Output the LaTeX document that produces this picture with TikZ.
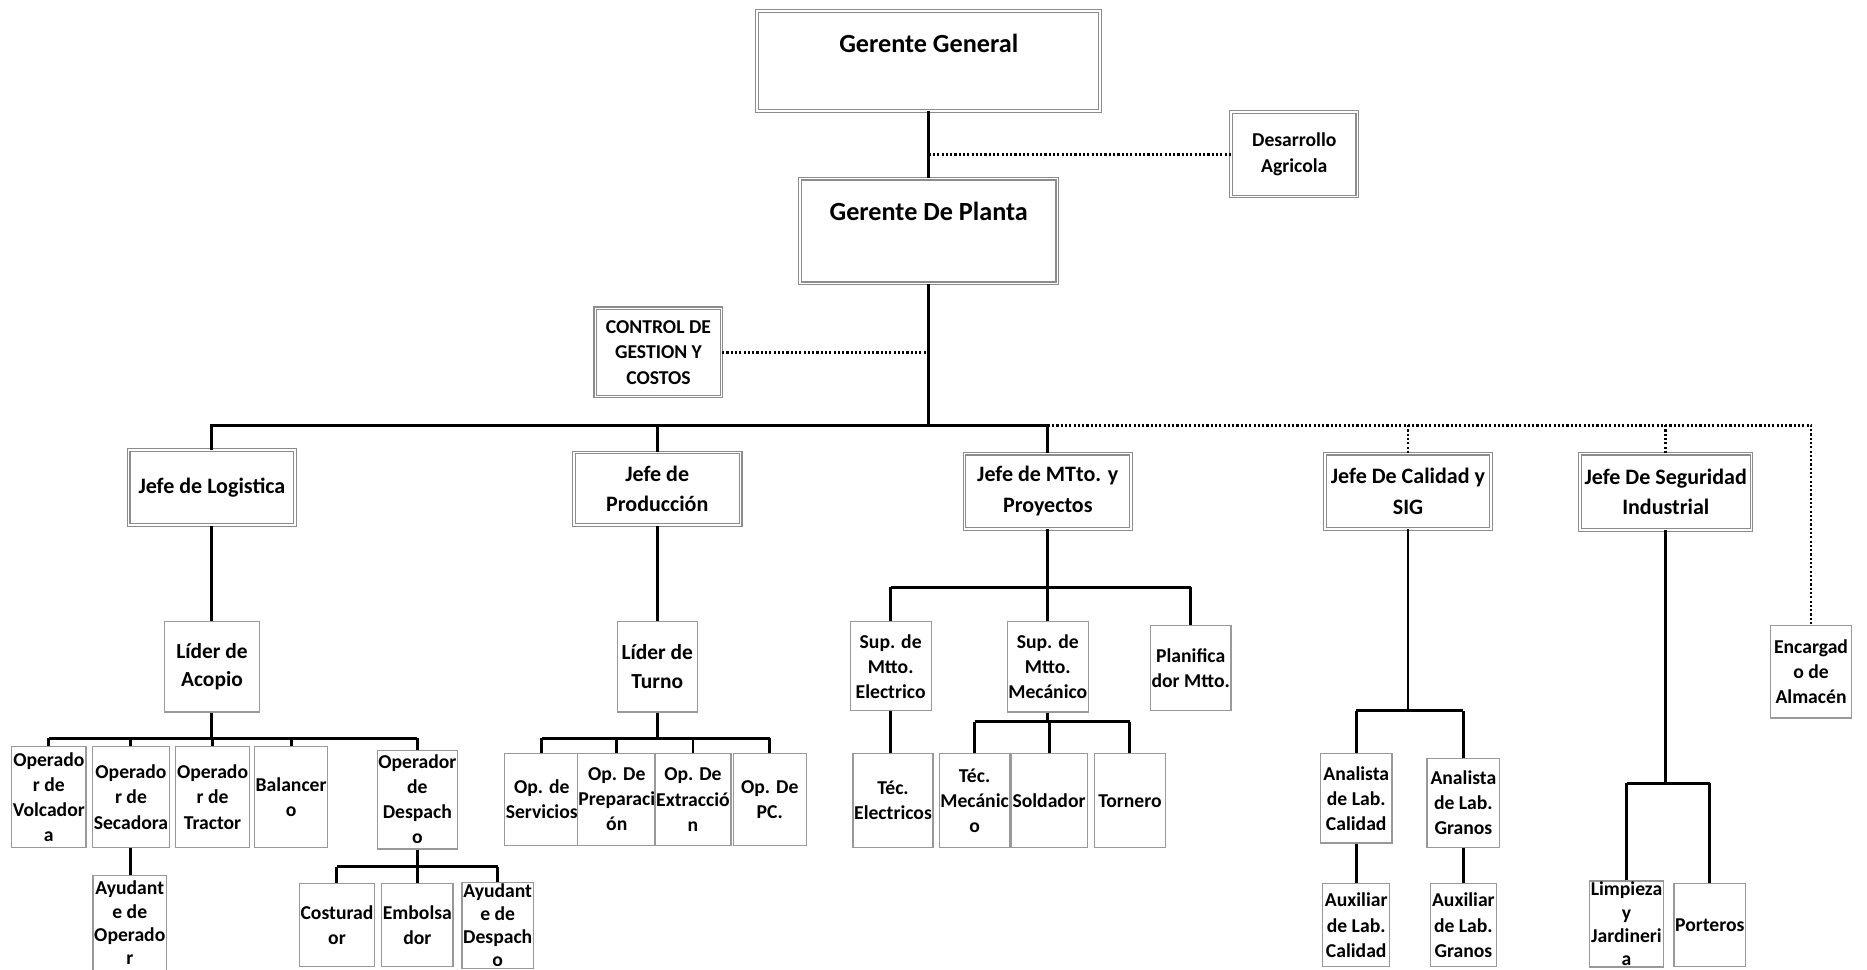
\documentclass[tikz,border=0pt]{standalone}
\usepackage{fontspec}
\setmainfont{Carlito}
\begin{document}
\begin{tikzpicture}[x=1pt,y=-1pt,
  boxbase/.style={rectangle, inner sep=1pt, align=center, fill=white, text=black},
  major/.style={boxbase, draw=black!45, double=white, double distance=1.4pt, line width=0.9pt},
  minor/.style={boxbase, draw=black!40, line width=1pt},
  conn/.style={line width=2.5pt, black},
  dotl/.style={line width=2.4pt, black, dash pattern=on 1.8pt off 1.8pt},
  fbig/.style={font=\fontsize{22}{26}\selectfont\bfseries},
  fjefe/.style={font=\fontsize{18.5}{25.5}\selectfont\bfseries},
  flider/.style={font=\fontsize{18}{24}\selectfont\bfseries},
  fside/.style={font=\fontsize{16.5}{21.5}\selectfont\bfseries},
  fsm/.style={font=\fontsize{16.5}{21}\selectfont\bfseries},
  fsmb/.style={font=\fontsize{16.5}{19.5}\selectfont\bfseries}
]
\clip (0,0) rectangle (1568,814);
\fill[white] (0,0) rectangle (1568,814);

% top level
\node[major, fbig, minimum width=288pt, inner ysep=0pt, text height=35pt, text depth=49pt] (gg) at (780,51) {Gerente General};
\node[major, fbig, minimum width=216pt, inner ysep=0pt, text height=35pt, text depth=53pt] (gp) at (780,194) {Gerente De Planta};
\node[major, fside, minimum width=106pt, minimum height=71pt] (des) at (1087,129.5) {Desarrollo\\Agricola};
\node[major, fside, minimum width=106pt, minimum height=74pt] (ctrl) at (553,296) {CONTROL DE\\GESTION Y\\COSTOS};

% jefes
\node[major, fjefe, minimum width=140pt, minimum height=63pt] (jl) at (178,409.5) {Jefe de Logistica};
\node[major, fjefe, minimum width=140pt, minimum height=61pt] (jp) at (552,410.5) {Jefe de\\Producción};
\node[major, fjefe, minimum width=140pt, minimum height=63pt] (jm) at (880,412.5) {Jefe de MTto. y\\Proyectos};
\node[major, fjefe, minimum width=139pt, minimum height=63pt] (jc) at (1182.5,412.5) {Jefe De Calidad y\\SIG};
\node[major, fjefe, minimum width=144pt, minimum height=64pt] (js) at (1399,413) {Jefe De Seguridad\\Industrial};

% logistica
\node[minor, flider, minimum width=80pt, minimum height=76pt] (la) at (178,560) {Líder de\\Acopio};
\node[minor, fsm, minimum width=62pt, minimum height=85pt] (ov) at (41,669.5) {Operado\\r de\\Volcador\\a};
\node[minor, fsm, minimum width=60pt, minimum height=85pt] (os) at (110,669.5) {Operado\\r de\\Secadora};
\node[minor, fsm, minimum width=61pt, minimum height=85pt] (ot) at (178.5,669.5) {Operado\\r de\\Tractor};
\node[minor, fsm, minimum width=61pt, minimum height=85pt] (bal) at (244.5,669.5) {Balancer\\o};
\node[minor, fsm, minimum width=65pt, minimum height=83pt] (od) at (350.5,671.5) {Operador\\de\\Despach\\o};
\node[minor, fsmb, minimum width=54pt, minimum height=80pt] (ao) at (109,775) {Ayudant\\e de\\Operado\\r};
\node[minor, fsm, minimum width=54pt, minimum height=70pt] (cos) at (283,777) {Costurad\\or};
\node[minor, fsm, minimum width=54pt, minimum height=70pt] (emb) at (350.5,777) {Embolsa\\dor};
\node[minor, fsmb, minimum width=54pt, minimum height=70pt] (ad) at (418,777) {Ayudant\\e de\\Despach\\o};

% produccion
\node[minor, flider, minimum width=67pt, minimum height=76pt] (lt) at (552,560) {Líder de\\Turno};
\node[minor, fsm, minimum width=62pt, minimum height=77pt] (ops) at (455,671.5) {Op. de\\Servicios};
\node[minor, fsm, minimum width=62pt, minimum height=77pt] (opp) at (518,671.5) {Op. De\\Preparaci\\ón};
\node[minor, fsm, minimum width=62pt, minimum height=77pt] (ope) at (582,671.5) {Op. De\\Extracció\\n};
\node[minor, fsm, minimum width=61pt, minimum height=77pt] (opc) at (646.5,671.5) {Op. De\\PC.};

% mantenimiento
\node[minor, fsm, minimum width=68pt, minimum height=75pt] (se) at (748,559.5) {Sup. de\\Mtto.\\Electrico};
\node[minor, fsm, minimum width=67pt, minimum height=76pt] (sm) at (880,560) {Sup. de\\Mtto.\\Mecánico};
\node[minor, fsm, minimum width=66pt, minimum height=72pt] (pm) at (1000,561) {Planifica\\dor Mtto.};
\node[minor, fsm, minimum width=62pt, minimum height=79pt] (te) at (750,672.5) {Téc.\\Electricos};
\node[minor, fsm, minimum width=59pt, minimum height=79pt] (tm) at (818.5,672.5) {Téc.\\Mecánic\\o};
\node[minor, fsm, minimum width=64pt, minimum height=79pt] (sol) at (881,672.5) {Soldador};
\node[minor, fsm, minimum width=60pt, minimum height=79pt] (tor) at (949,672.5) {Tornero};

% calidad
\node[minor, fsm, minimum width=60pt, minimum height=75pt] (alc) at (1139,670.5) {Analista\\de Lab.\\Calidad};
\node[minor, fsm, minimum width=61pt, minimum height=75pt] (alg) at (1229,674.5) {Analista\\de Lab.\\Granos};
\node[minor, fsm, minimum width=56pt, minimum height=70pt] (axc) at (1139,777) {Auxiliar\\de Lab.\\Calidad};
\node[minor, fsm, minimum width=55pt, minimum height=70pt] (axg) at (1229,777) {Auxiliar\\de Lab.\\Granos};

% seguridad
\node[minor, fsmb, minimum width=54pt, minimum height=70pt] (lim) at (1366,776) {Limpieza\\y\\Jardineri\\a};
\node[minor, fsm, minimum width=54pt, minimum height=70pt] (por) at (1436,777) {Porteros};
\node[minor, fsm, minimum width=68pt, minimum height=78pt] (enc) at (1521,564) {Encargad\\o de\\Almacén};

% connectors top
\draw[conn] (gg.south) -- (gp.north);
\draw[dotl] (gg.south |- des.west) -- (des.west);
\coordinate (bus) at (780,357);
\draw[conn] (gp.south) -- (bus);
\draw[dotl] (ctrl.east) -- (gp.south |- ctrl.east);
\draw[conn] (jl.north) |- (jm.north |- bus) -- (jm.north);
\draw[conn] (jp.north) -- (jp.north |- bus);
\coordinate (busR) at (jm.north |- bus);
\draw[dotl] (busR) -| (enc.north);
\draw[dotl] (jc.north |- bus) -- (jc.north);
\draw[dotl] (js.north |- bus) -- (js.north);

% logistica connectors
\coordinate (lb) at (178,620);
\draw[conn] (jl.south) -- (la.north);
\draw[conn] (la.south) -- (lb);
\draw[conn] (ov.north |- lb) -- (od.north |- lb);
\foreach \n in {ov,os,ot,bal,od} \draw[conn] (\n.north) -- (\n.north |- lb);
\draw[conn] (os.south) -- (os.south |- ao.north);
\coordinate (db) at (350.5,728);
\draw[conn] (od.south) -- (db);
\draw[conn] (cos.north |- db) -- (ad.north |- db);
\foreach \n in {cos,emb,ad} \draw[conn] (\n.north) -- (\n.north |- db);

% produccion connectors
\coordinate (pb) at (552,620);
\draw[conn] (jp.south) -- (lt.north);
\draw[conn] (lt.south) -- (pb);
\draw[conn] (ops.north |- pb) -- (opc.north |- pb);
\foreach \n in {ops,opp,ope,opc} \draw[conn] (\n.north) -- (\n.north |- pb);

% mantenimiento connectors
\coordinate (mb) at (880,493);
\draw[conn] (jm.south) -- (mb);
\draw[conn] (se.north |- mb) -- (pm.north |- mb);
\foreach \n in {se,sm,pm} \draw[conn] (\n.north) -- (\n.north |- mb);
\draw[conn] (se.south) -- (se.south |- te.north);
\coordinate (sb) at (880,606);
\draw[conn] (sm.south) -- (sb);
\draw[conn] (tm.north |- sb) -- (tor.north |- sb);
\foreach \n in {tm,sol,tor} \draw[conn] (\n.north) -- (\n.north |- sb);

% calidad connectors
\coordinate (cb) at (1182.5,597);
\draw[conn] (jc.south) -- (cb);
\draw[conn] (alc.north |- cb) -- (alg.north |- cb);
\foreach \n in {alc,alg} \draw[conn] (\n.north) -- (\n.north |- cb);
\draw[conn] (alc.south) -- (axc.north);
\draw[conn] (alg.south) -- (axg.north);

% seguridad connectors
\coordinate (sgb) at (1399,658);
\draw[conn] (js.south) -- (sgb);
\draw[conn] (lim.north |- sgb) -- (por.north |- sgb);
\foreach \n in {lim,por} \draw[conn] (\n.north) -- (\n.north |- sgb);
\end{tikzpicture}
\end{document}
